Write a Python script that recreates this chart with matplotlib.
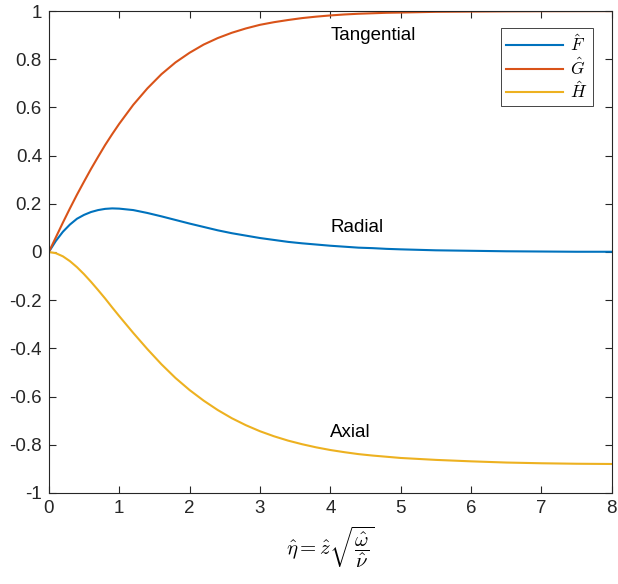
import matplotlib
matplotlib.use("Agg")
import matplotlib.pyplot as plt

plt.rcParams['font.family'] = ['Liberation Sans', 'DejaVu Sans']
plt.rcParams['mathtext.fontset'] = 'cm'
plt.rcParams['axes.unicode_minus'] = False

eta = [0, 0.1, 0.2, 0.3, 0.4, 0.5, 0.6, 0.7, 0.8, 0.9, 1.0, 1.2, 1.4, 1.6, 1.8, 2.0,
       2.2, 2.4, 2.6, 2.8, 3.0, 3.2, 3.4, 3.6, 3.8, 4.0, 4.2, 4.4, 4.6, 4.8, 5.0,
       5.5, 6.0, 6.5, 7.0, 7.5, 8.0]
F_hat = [0, 0.046, 0.084, 0.114, 0.138, 0.154, 0.166, 0.174, 0.179, 0.181, 0.180,
         0.174, 0.162, 0.148, 0.133, 0.118, 0.104, 0.090, 0.078, 0.068, 0.058,
         0.050, 0.042, 0.036, 0.031, 0.026, 0.022, 0.018, 0.016, 0.013, 0.011,
         0.007, 0.005, 0.003, 0.002, 0.001, 0.001]
G_hat = [0, 0.061, 0.122, 0.181, 0.238, 0.292, 0.345, 0.395, 0.444, 0.489, 0.532,
         0.611, 0.679, 0.738, 0.787, 0.827, 0.861, 0.888, 0.910, 0.928, 0.943,
         0.954, 0.963, 0.971, 0.977, 0.982, 0.986, 0.989, 0.991, 0.993, 0.994,
         0.997, 0.998, 0.999, 0.9995, 0.9998, 1.0]
H_hat = [0, -0.005, -0.018, -0.038, -0.063, -0.092, -0.124, -0.158, -0.193, -0.230,
         -0.266, -0.336, -0.403, -0.466, -0.523, -0.573, -0.617, -0.656, -0.690,
         -0.719, -0.744, -0.765, -0.783, -0.798, -0.811, -0.822, -0.831, -0.839,
         -0.845, -0.850, -0.855, -0.863, -0.869, -0.874, -0.877, -0.879, -0.880]

xticks = [0, 1, 2, 3, 4, 5, 6, 7, 8]
yticks = [-1, -0.8, -0.6, -0.4, -0.2, 0, 0.2, 0.4, 0.6, 0.8, 1]
ytick_labels = ['-1', '-0.8', '-0.6', '-0.4', '-0.2', '0', '0.2', '0.4', '0.6', '0.8', '1']

fig = plt.figure(figsize=(6.18, 5.84), dpi=100)
ax = fig.add_axes([0.079, 0.156, 0.911, 0.825])

ax.plot(eta, F_hat, color='#0072BD', lw=1.5, label=r'$\hat{F}$')
ax.plot(eta, G_hat, color='#D95319', lw=1.5, label=r'$\hat{G}$')
ax.plot(eta, H_hat, color='#EDB120', lw=1.5, label=r'$\hat{H}$')

ax.set_xlim(0, 8)
ax.set_ylim(-1, 1)
ax.set_xticks(xticks)
ax.set_xticklabels([str(t) for t in xticks])
ax.set_yticks(yticks)
ax.set_yticklabels(ytick_labels)

axc = '#262626'
for s in ax.spines.values():
    s.set_color(axc)
    s.set_linewidth(0.8)
ax.tick_params(direction='in', length=5, width=0.8, colors=axc, labelsize=13.5,
               top=True, right=True, pad=5)

ax.text(4.0, 0.90, 'Tangential', fontsize=13.5, va='center', ha='left')
ax.text(4.0, 0.10, 'Radial', fontsize=13.5, va='center', ha='left')
ax.text(4.0, -0.75, 'Axial', fontsize=13.5, va='center', ha='left')

ax.set_xlabel(r'$\hat{\eta} = \hat{z}\sqrt{\dfrac{\hat{\omega}}{\hat{\nu}}}$', fontsize=15, labelpad=6)

leg = ax.legend(loc='upper right', bbox_to_anchor=(0.966, 0.965), borderaxespad=0,
                fontsize=12.5, fancybox=False, edgecolor='#262626', framealpha=1,
                handlelength=3.3, borderpad=0.3, labelspacing=0.12, handletextpad=0.4)
leg.get_frame().set_linewidth(0.6)

fig.savefig('out.png', dpi=100)
